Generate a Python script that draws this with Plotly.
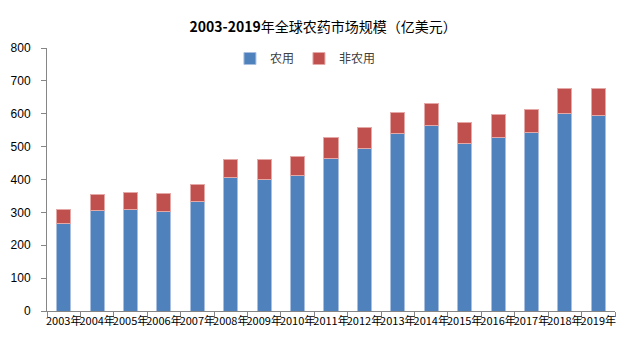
import plotly.graph_objects as go

years = ["2003年", "2004年", "2005年", "2006年", "2007年", "2008年", "2009年", "2010年",
         "2011年", "2012年", "2013年", "2014年", "2015年", "2016年", "2017年", "2018年", "2019年"]
agri = [266, 306, 310, 304, 334, 405, 399, 411, 463, 493, 541, 565, 509, 529, 544, 601, 596]
non_agri = [44, 47, 49, 52, 52, 56, 62, 59, 65, 66, 64, 65, 65, 70, 70, 75, 80]

CJK = "Noto Sans CJK SC, sans-serif"

fig = go.Figure()
fig.add_trace(go.Bar(x=years, y=agri, name="农用", width=0.42,
                     marker=dict(color="#4F81BD", line=dict(color="#A9BFDF", width=1))))
fig.add_trace(go.Bar(x=years, y=non_agri, name="非农用", width=0.42,
                     marker=dict(color="#C0504D", line=dict(color="#E4A9A7", width=1))))

fig.update_layout(
    barmode="stack",
    width=632, height=339,
    margin=dict(l=47, r=17, t=48, b=28, autoexpand=False),
    paper_bgcolor="white", plot_bgcolor="white",
    font=dict(family=CJK, size=11, color="#000000"),
    title=dict(text="<b>2003-2019</b>年全球农药市场规模（亿美元）",
               x=0.486, xref="paper", xanchor="center",
               y=1 - 27/339, yref="container", yanchor="middle",
               font=dict(family=CJK, size=14, color="#000000")),
    legend=dict(orientation="h", x=0.455, xanchor="center", xref="paper",
                y=0.96, yref="paper", yanchor="middle",
                font=dict(family=CJK, size=12, color="#404040"),
                itemwidth=30, traceorder="normal", bgcolor="rgba(0,0,0,0)"),
    showlegend=True,
)
fig.update_xaxes(showline=True, linecolor="#868686", linewidth=1,
                 ticks="outside", ticklen=5, tickcolor="#868686", tickson="boundaries",
                 showgrid=False, tickfont=dict(size=11, family=CJK, color="#000000"),
                 tickangle=0)
fig.update_yaxes(range=[0, 800], dtick=100, showline=True, linecolor="#868686", linewidth=1,
                 ticks="outside", ticklen=5, tickcolor="#868686", showgrid=False,
                 zeroline=False, ticklabelstandoff=8,
                 tickfont=dict(size=12, family="Liberation Sans, sans-serif", color="#000000"))

fig.write_html("out.html")
